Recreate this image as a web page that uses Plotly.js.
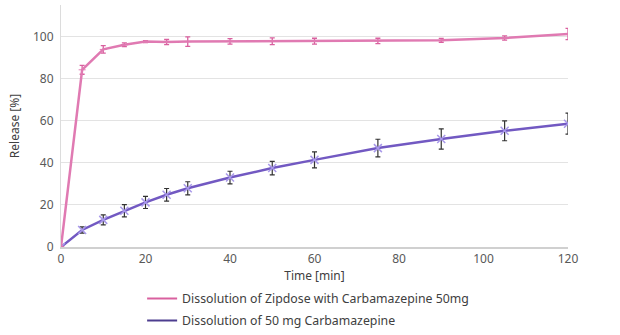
<!DOCTYPE html>
<html>
<head>
<meta charset="utf-8">
<script src="https://cdn.plot.ly/plotly-3.0.1.min.js"></script>
<style>html,body{margin:0;padding:0;background:#fff;}#chart{width:620px;height:335px;}</style>
</head>
<body>
<div id="chart"></div>
<script>
const timeMin = [0, 5, 10, 15, 20, 25, 30, 40, 50, 60, 75, 90, 105, 120];
const zipdoseRelease = [0, 84.2, 93.9, 96.1, 97.6, 97.4, 97.6, 97.7, 97.8, 97.8, 97.9, 98.2, 99.3, 101.2];
const zipdoseErr = [0, 2.1, 1.8, 0.9, 0.5, 1.2, 2.3, 1.3, 1.6, 1.4, 1.3, 0.9, 1.0, 2.7];
const plainRelease = [0, 8.1, 12.9, 17.2, 21.2, 24.8, 27.9, 33.0, 37.5, 41.4, 47.0, 51.3, 55.2, 58.6];
const plainErr = [0, 1.5, 2.4, 2.9, 2.9, 3.0, 3.1, 3.0, 3.2, 3.8, 4.2, 4.8, 4.7, 5.0];
const seriesNames = ['Dissolution of Zipdose with Carbamazepine 50mg', 'Dissolution of 50 mg Carbamazepine'];
const xTicks = [0, 20, 40, 60, 80, 100, 120];
const yTicks = [0, 20, 40, 60, 80, 100];

const font = {family: '"Noto Sans", "Open Sans", sans-serif', size: 12, color: '#595959'};

const traces = [
  {
    x: timeMin, y: plainRelease, name: seriesNames[1], type: 'scatter', mode: 'lines+markers',
    line: {color: '#7259c2', width: 2.5},
    marker: {symbol: 'x-thin', size: 8, color: '#a898ea', line: {color: '#a898ea', width: 1.5}},
    error_y: {type: 'data', array: plainErr, visible: true, color: '#333333', thickness: 1.2, width: 2.5},
    showlegend: false
  },
  {
    x: timeMin, y: zipdoseRelease, name: seriesNames[0], type: 'scatter', mode: 'lines+markers',
    line: {color: '#e07ab2', width: 2.5},
    marker: {symbol: 'line-ew', size: 5, color: '#e07ab2', line: {color: '#e07ab2', width: 1}},
    error_y: {type: 'data', array: zipdoseErr, visible: true, color: '#d9609f', thickness: 1.3, width: 2.5},
    showlegend: false
  },
  {
    x: [null], y: [null], name: seriesNames[0], type: 'scatter', mode: 'lines',
    line: {color: '#d9609f', width: 2}, legendgroup: 'a', legendrank: 1
  },
  {
    x: [null], y: [null], name: seriesNames[1], type: 'scatter', mode: 'lines',
    line: {color: '#4d3d8f', width: 2}, legendgroup: 'b', legendrank: 2
  }
];

const layout = {
  width: 620, height: 335,
  margin: {l: 61, r: 52, t: 5, b: 88, autoexpand: false},
  paper_bgcolor: '#fff', plot_bgcolor: '#fff',
  font: font,
  showlegend: true,
  legend: {
    x: 0.16, xanchor: 'left', yref: 'container', y: 1 - 284 / 335, yanchor: 'top',
    orientation: 'v', font: {family: font.family, size: 12.3, color: '#404040'},
    tracegroupgap: 3, bgcolor: 'rgba(0,0,0,0)'
  },
  xaxis: {
    range: [0, 120], tickvals: xTicks, ticktext: xTicks.map(String),
    showgrid: false, zeroline: false,
    showline: true, linecolor: '#d0d0d0', linewidth: 1.5,
    ticks: '', tickfont: font,
    title: {text: 'Time [min]', font: {family: font.family, size: 12, color: '#404040'}, standoff: 8}
  },
  yaxis: {
    range: [0, 115], tickvals: yTicks, ticktext: yTicks.map(String),
    showgrid: true, gridcolor: '#e3e3e3', gridwidth: 1, zeroline: false,
    showline: true, linecolor: '#dcdcdc', linewidth: 1,
    ticks: '', tickfont: font, ticklabelstandoff: 4,
    title: {text: 'Release [%]', font: {family: font.family, size: 12, color: '#404040'}, standoff: 10}
  }
};

Plotly.newPlot('chart', traces, layout, {displayModeBar: false, staticPlot: true});
</script>
</body>
</html>
